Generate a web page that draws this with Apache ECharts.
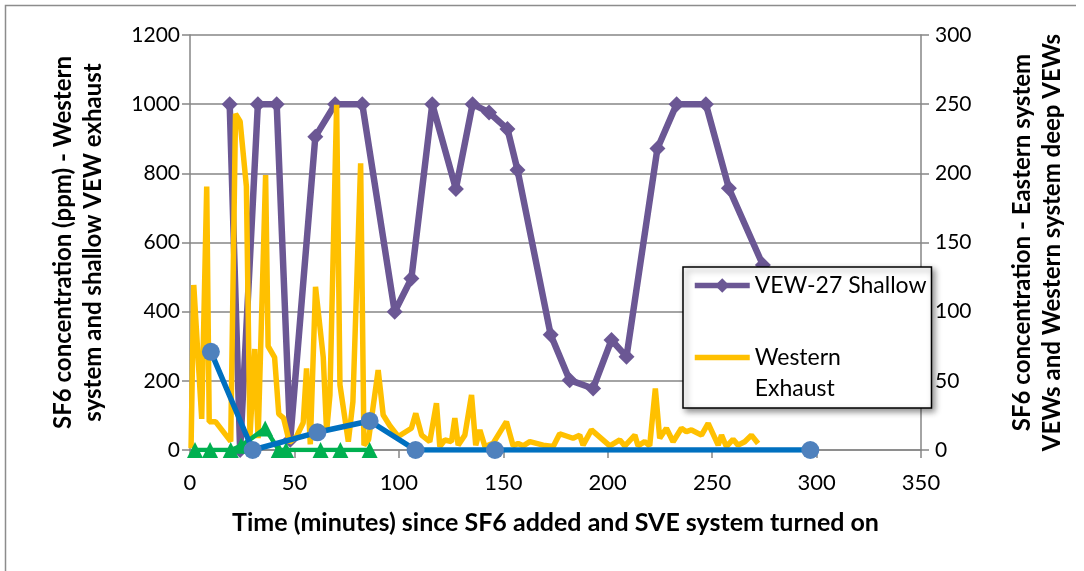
<!DOCTYPE html>
<html>
<head>
<meta charset="utf-8">
<script src="https://cdn.jsdelivr.net/npm/echarts@6/dist/echarts.min.js"></script>
<style>
html,body{margin:0;padding:0;background:#fff;}
#chart{width:1084px;height:571px;}
</style>
</head>
<body>
<div id="chart"></div>
<script>
// ---- data (time in minutes, concentration) ----
const vewShallowTime = [19, 24, 32.5, 41.5, 48, 60, 69.5, 82.5, 98, 106, 116, 127.3, 135.3, 143.2, 152, 156.8, 172.7, 181.8, 193, 201.8, 209, 223.8, 233, 247, 258, 274.3];
const vewShallowPpm  = [1000, 0, 1000, 1000, 30, 906, 1000, 1000, 400, 496, 1000, 755, 1000, 976, 928, 810, 333, 202, 178, 318, 270, 872, 1000, 1000, 757, 535];

const westExhTime = [0.5, 1.8, 5.6, 8, 9.2, 12.2, 19.5, 21.8, 24, 27, 28.7, 31, 32.6, 36.2, 37.4, 40.5, 42.5, 44.8, 47.6, 51, 54.2, 55.8, 57.6, 60.1, 63.8, 65.4, 67, 70.2, 71.8, 75.8, 78, 81.7, 83.3, 85.5, 90.1, 92.5, 95.7, 99.7, 106, 108.1, 110.9, 114.8, 118, 119.6, 122, 125.2, 126.8, 128.4, 131.6, 134.8, 136.8, 138.8, 141.2, 145.1, 151.5, 154.7, 157.1, 159.5, 162.7, 169.1, 173.9, 177, 183.4, 186.6, 188.2, 192.2, 201, 205.8, 208.2, 213, 214.5, 217.7, 220.1, 222.8, 224.9, 228.1, 231.3, 235.3, 237.7, 240.1, 244.9, 248.1, 252.9, 254.5, 256.8, 260, 262.4, 265.6, 268.8, 272];
const westExhPpm  = [5, 477, 90, 762, 82, 82, 25, 972, 950, 762, 37, 292, 34, 795, 300, 268, 104, 92, 22, 39, 79, 236, 16, 472, 268, 53, 159, 998, 188, 24, 140, 829, 14, 30, 231, 101, 70, 39, 63, 106, 43, 24, 135, 10, 29, 24, 92, 14, 43, 159, 14, 58, 10, 19, 82, 12, 19, 12, 24, 14, 10, 47, 34, 43, 14, 58, 12, 29, 12, 43, 12, 24, 12, 178, 34, 63, 24, 63, 53, 58, 43, 77, 14, 43, 10, 31, 14, 24, 43, 19];

const eastTime = [10, 30, 61, 86, 108, 146, 297];
const eastVal  = [71, 0, 12.8, 21, 0, 0, 0];

const deepTime = [2.4, 9.6, 19.5, 24.5, 36, 42.5, 46, 62.5, 72, 86];
const deepVal  = [0, 0, 0, 3, 15.6, 0, 0, 0, 0, 0];

const xTicks = {min: 0, max: 350, interval: 50};
const yLeftTicks = {min: 0, max: 1200, interval: 200};
const yRightTicks = {min: 0, max: 300, interval: 50};

const zip = (a, b) => a.map((v, i) => [v, b[i]]);

const FONT = 'Lato';
const AXIS_GRAY = '#868686';
const plain = v => String(v);

const chart = echarts.init(document.getElementById('chart'), null, {renderer: 'canvas'});
chart.setOption({
  animation: false,
  backgroundColor: '#fff',
  textStyle: {fontFamily: FONT},
  graphic: [{
    type: 'polyline',
    shape: {points: [[5.5, 580], [5.5, 5.5], [1076, 5.5]]},
    style: {stroke: '#8c8c8c', lineWidth: 1.5, fill: null},
    silent: true
  }],
  grid: {left: 190, right: 163, top: 35, bottom: 121},
  legend: {
    data: ['VEW-27 Shallow', 'Western Exhaust'],
    orient: 'vertical',
    left: 683, top: 267,
    padding: [3, 5, 4, 9],
    itemGap: 10,
    itemWidth: 55, itemHeight: 18,
    lineStyle: {width: 5.5},
    backgroundColor: '#fff',
    borderColor: '#000', borderWidth: 1.5,
    shadowColor: 'rgba(0,0,0,0.45)', shadowBlur: 6, shadowOffsetX: 3, shadowOffsetY: 3,
    textStyle: {fontFamily: FONT, fontSize: 23, color: '#000', lineHeight: 31},
    formatter: n => n === 'Western Exhaust' ? ' \nWestern\nExhaust' : n
  },
  xAxis: {
    type: 'value', min: xTicks.min, max: xTicks.max, interval: xTicks.interval,
    name: 'Time (minutes) since SF6 added and SVE system turned on',
    nameLocation: 'middle', nameGap: 60,
    nameTextStyle: {fontFamily: FONT, fontWeight: 'bold', fontSize: 25, color: '#000'},
    axisLine: {onZero: false, lineStyle: {color: AXIS_GRAY, width: 1.5}},
    axisTick: {show: true, inside: false, length: 8, lineStyle: {color: AXIS_GRAY, width: 1.5}},
    axisLabel: {fontFamily: FONT, fontSize: 22, color: '#000', margin: 22, formatter: plain},
    splitLine: {show: false}
  },
  yAxis: [{
    type: 'value', min: yLeftTicks.min, max: yLeftTicks.max, interval: yLeftTicks.interval,
    position: 'left',
    name: 'SF6 concentration (ppm) - Western\nsystem and shallow VEW exhaust',
    nameLocation: 'middle', nameRotate: 90, nameGap: 82,
    nameTextStyle: {fontFamily: FONT, fontWeight: 'bold', fontSize: 24, color: '#000', lineHeight: 30},
    axisLine: {show: true, lineStyle: {color: AXIS_GRAY, width: 1.5}},
    axisTick: {show: true, inside: false, length: 8, lineStyle: {color: AXIS_GRAY, width: 1.5}},
    axisLabel: {fontFamily: FONT, fontSize: 21, color: '#000', margin: 10, formatter: plain},
    splitLine: {show: true, lineStyle: {color: AXIS_GRAY, width: 1.5}}
  }, {
    type: 'value', min: yRightTicks.min, max: yRightTicks.max, interval: yRightTicks.interval,
    position: 'right',
    name: 'SF6 concentration - Eastern system\nVEWs and Western system deep VEWs',
    nameLocation: 'middle', nameRotate: 90, nameGap: 86,
    nameTextStyle: {fontFamily: FONT, fontWeight: 'bold', fontSize: 24, color: '#000', lineHeight: 30},
    axisLine: {show: true, lineStyle: {color: AXIS_GRAY, width: 1.5}},
    axisTick: {show: true, inside: false, length: 8, lineStyle: {color: AXIS_GRAY, width: 1.5}},
    axisLabel: {fontFamily: FONT, fontSize: 21, color: '#000', margin: 14, formatter: plain},
    splitLine: {show: false}
  }],
  series: [{
    name: 'VEW-27 Shallow', type: 'line', yAxisIndex: 0, z: 2,
    data: zip(vewShallowTime, vewShallowPpm),
    symbol: 'diamond', symbolSize: 16, showAllSymbol: true,
    lineStyle: {color: '#6B5794', width: 6.5},
    itemStyle: {color: '#6B5794', borderWidth: 0}
  }, {
    name: 'Western Exhaust', type: 'line', yAxisIndex: 0, z: 3,
    data: zip(westExhTime, westExhPpm),
    symbol: 'none',
    lineStyle: {color: '#FFC000', width: 5.5},
    itemStyle: {color: '#FFC000', opacity: 0}
  }, {
    name: 'Western system deep VEWs', type: 'line', yAxisIndex: 1, z: 4,
    data: zip(deepTime, deepVal),
    symbol: 'triangle', symbolSize: 16, showAllSymbol: true,
    lineStyle: {color: '#00B050', width: 4.5},
    itemStyle: {color: '#00B050', borderWidth: 0}
  }, {
    name: 'Eastern system VEWs', type: 'line', yAxisIndex: 1, z: 5,
    data: zip(eastTime, eastVal),
    symbol: 'circle', symbolSize: 18, showAllSymbol: true,
    lineStyle: {color: '#0070C0', width: 5.5},
    itemStyle: {color: '#4F81BD', borderWidth: 0}
  }]
});
</script>
</body>
</html>
